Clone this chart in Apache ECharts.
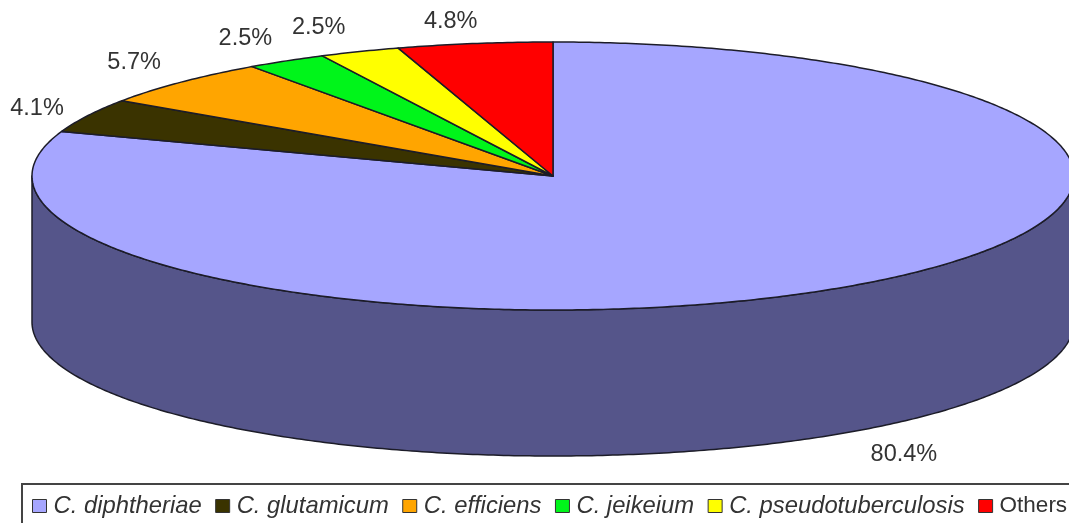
<!DOCTYPE html>
<html>
<head>
<meta charset="utf-8">
<style>
  html, body { margin: 0; padding: 0; background: #fff; overflow: hidden; }
  #chart { width: 1069px; height: 523px; }
</style>
<script src="https://cdn.jsdelivr.net/npm/echarts@6/dist/echarts.min.js"></script>
</head>
<body>
<div id="chart"></div>
<script>
const categories = ['C. diphtheriae', 'C. glutamicum', 'C. efficiens', 'C. jeikeium', 'C. pseudotuberculosis', 'Others'];
const percents = [80.4, 4.1, 5.7, 2.5, 2.5, 4.8];

const colors = ['#a6a6ff', '#3a3300', '#ffa500', '#00f51a', '#ffff00', '#ff0000'];
const wallColor = '#55558a';
const lineColor = '#1c1c28';
const textColor = '#333333';
// label offset from the middle of each slice's rim
const labelOffsets = [[50, 169], [-51, -7], [-47, -20], [-41, -22], [-41, -24], [-24, -22]];

const cx = 553;
const cy = 176;
const rx = 521;
const ry = 134;
const depth = 146;

const total = percents.reduce((a, b) => a + b, 0);

// angles run clockwise from the top of the ellipse
function rim(angle, dy) {
  return [cx + rx * Math.sin(angle), cy - ry * Math.cos(angle) + (dy || 0)];
}

function arcPoints(from, to, dy) {
  const pts = [];
  const steps = Math.max(2, Math.ceil(Math.abs(to - from) / 0.01));
  for (let i = 0; i <= steps; i++) {
    pts.push(rim(from + (to - from) * i / steps, dy));
  }
  return pts;
}

function renderSlice(index) {
  return function(params, api) {
    const before = percents.slice(0, index).reduce((a, b) => a + b, 0);
    const start = before / total * Math.PI * 2;
    const end = start + api.value(0) / total * Math.PI * 2;
    const mid = (start + end) / 2;
    const children = [];

    // the visible wall belongs to the big slice, which covers the whole front
    if (index === 0) {
      const lower = arcPoints(Math.PI / 2, Math.PI * 1.5, depth);
      const upper = arcPoints(Math.PI * 1.5, Math.PI / 2, 0);
      children.push({
        type: 'polygon',
        shape: { points: lower.concat(upper) },
        style: { fill: wallColor, stroke: lineColor, lineWidth: 1.5, lineJoin: 'round' }
      });
    }

    children.push({
      type: 'polygon',
      shape: { points: [[cx, cy]].concat(arcPoints(start, end, 0)) },
      style: { fill: colors[index], stroke: lineColor, lineWidth: 1.5, lineJoin: 'round' }
    });

    const anchor = rim(mid, 0);
    children.push({
      type: 'text',
      z2: 10,
      style: {
        x: anchor[0] + labelOffsets[index][0],
        y: anchor[1] + labelOffsets[index][1],
        text: api.value(0).toFixed(1) + '%',
        fill: textColor,
        font: '23.5px "Liberation Sans", Arial, sans-serif',
        align: 'center',
        verticalAlign: 'middle'
      }
    });

    return { type: 'group', children: children };
  };
}

const chart = echarts.init(document.getElementById('chart'));

chart.setOption({
  animation: false,
  backgroundColor: '#ffffff',
  legend: {
    show: true,
    left: 22,
    top: 484,
    width: 1300,
    padding: [10, 40, 30, 10],
    itemGap: 13.5,
    itemWidth: 14,
    itemHeight: 13,
    icon: 'rect',
    borderColor: '#444444',
    borderWidth: 2,
    backgroundColor: '#ffffff',
    itemStyle: { borderColor: '#333333', borderWidth: 1 },
    textStyle: {
      color: textColor,
      fontFamily: '"Liberation Sans", Arial, sans-serif',
      fontSize: 23.8,
      fontStyle: 'italic',
      padding: [2, 0, 0, 2]
    },
    data: categories.map(name => (
      name === 'Others' ? { name: name, textStyle: { fontStyle: 'normal', fontSize: 22.5 } } : { name: name }
    ))
  },
  series: categories.map((name, i) => ({
    type: 'custom',
    name: name,
    coordinateSystem: 'none',
    itemStyle: { color: colors[i] },
    renderItem: renderSlice(i),
    data: [[percents[i]]]
  }))
});
</script>
</body>
</html>
